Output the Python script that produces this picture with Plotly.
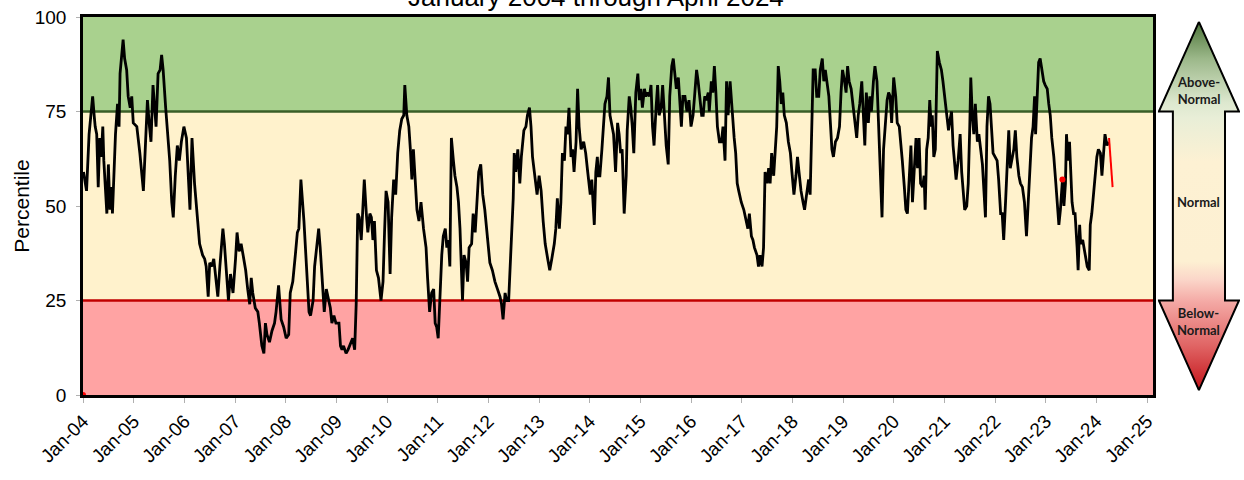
import datetime as dt
import plotly.graph_objects as go

TITLE = "January 2004 through April 2024"
Y_TITLE = "Percentile"
FONT = "Liberation Sans, Arial, sans-serif"

# Weekly percentile readings: decimal year and percentile, by period
yr_2004_2008 = [
    2004.01, 2004.07, 2004.12, 2004.15, 2004.19, 2004.22, 2004.24, 2004.27, 2004.30, 2004.33, 2004.36,
    2004.39, 2004.41, 2004.47, 2004.50, 2004.53, 2004.56, 2004.58, 2004.61, 2004.64, 2004.68, 2004.71,
    2004.73, 2004.77, 2004.79, 2004.82, 2004.86, 2004.89, 2004.93, 2004.96, 2004.99,
    2005.06, 2005.12, 2005.19, 2005.23, 2005.27, 2005.31, 2005.34, 2005.38, 2005.44, 2005.48, 2005.52,
    2005.55, 2005.58, 2005.63, 2005.68, 2005.71, 2005.75, 2005.78, 2005.82, 2005.86, 2005.90, 2005.94, 2005.99,
    2006.04, 2006.11, 2006.15, 2006.20, 2006.25, 2006.30, 2006.36, 2006.40, 2006.43, 2006.47, 2006.50,
    2006.54, 2006.58, 2006.62, 2006.66, 2006.70, 2006.73, 2006.76, 2006.79, 2006.83, 2006.87, 2006.91, 2006.96,
    2007.01, 2007.04, 2007.08, 2007.12, 2007.16, 2007.21, 2007.25, 2007.29, 2007.32, 2007.35, 2007.40,
    2007.45, 2007.48, 2007.53, 2007.57, 2007.60, 2007.63, 2007.68, 2007.73, 2007.78, 2007.81, 2007.86,
    2007.91, 2007.96,
    2008.01, 2008.06, 2008.09, 2008.14, 2008.19, 2008.23, 2008.26, 2008.30, 2008.36, 2008.41, 2008.46,
    2008.49, 2008.54, 2008.57, 2008.61, 2008.65, 2008.68, 2008.73, 2008.76, 2008.80, 2008.84, 2008.88,
    2008.91, 2008.95, 2008.99,
]
pct_2004_2008 = [
    59, 54, 69, 73, 79, 74, 71, 69, 55, 68, 63,
    71, 62, 48, 61, 49, 55, 48, 61, 69, 77, 71,
    85, 90, 94, 89, 86, 79, 76, 79, 72,
    71, 64, 54, 65, 78, 71, 67, 82, 71, 85, 86,
    90, 86, 76, 67, 62, 51, 47, 58, 66, 62, 67, 71,
    68, 49, 68, 56, 48, 40, 37, 36, 34, 26, 35,
    34, 36, 31, 26, 34, 39, 44, 40, 33, 25, 32, 27,
    36, 43, 38, 40, 37, 33, 28, 24, 31, 27, 23,
    22, 19, 13, 11, 19, 16, 14, 17, 19, 22, 29,
    20, 18,
    15, 16, 27, 30, 37, 43, 44, 57, 46, 35, 22,
    21, 25, 34, 40, 44, 39, 28, 22, 28, 25, 23,
    19, 21, 19,
]

yr_2009_2012 = [
    2009.05, 2009.08, 2009.11, 2009.14, 2009.19, 2009.23, 2009.28, 2009.32, 2009.36, 2009.39, 2009.42,
    2009.45, 2009.49, 2009.52, 2009.55, 2009.59, 2009.62, 2009.66, 2009.69, 2009.72, 2009.75, 2009.79,
    2009.83, 2009.88, 2009.92, 2009.95, 2009.98,
    2010.02, 2010.06, 2010.09, 2010.13, 2010.17, 2010.21, 2010.25, 2010.29, 2010.33, 2010.35, 2010.39,
    2010.43, 2010.46, 2010.49, 2010.52, 2010.56, 2010.59, 2010.63, 2010.67, 2010.72, 2010.77, 2010.80,
    2010.84, 2010.88, 2010.92, 2010.95, 2010.98,
    2011.01, 2011.05, 2011.08, 2011.11, 2011.15, 2011.18, 2011.21, 2011.24, 2011.27, 2011.31, 2011.34,
    2011.38, 2011.41, 2011.44, 2011.47, 2011.49, 2011.52, 2011.56, 2011.59, 2011.62, 2011.67, 2011.70,
    2011.74, 2011.77, 2011.81, 2011.85, 2011.89, 2011.93, 2011.98,
    2012.03, 2012.08, 2012.13, 2012.18, 2012.23, 2012.26, 2012.29, 2012.33, 2012.36, 2012.40, 2012.45,
    2012.49, 2012.51, 2012.54, 2012.58, 2012.62, 2012.65, 2012.70, 2012.74, 2012.77, 2012.81, 2012.84,
    2012.87, 2012.91, 2012.96,
]
pct_2009_2012 = [
    19, 13, 12, 13, 11, 12, 14, 15, 12, 24, 48,
    47, 41, 49, 57, 48, 43, 48, 47, 41, 46, 33,
    31, 25, 30, 43, 54,
    51, 32, 47, 57, 53, 64, 70, 73, 74, 82, 74,
    71, 65, 57, 65, 56, 49, 46, 51, 44, 39, 31,
    22, 27, 28, 19, 18,
    15, 28, 37, 42, 44, 39, 41, 34, 68, 62, 58,
    55, 51, 44, 34, 25, 37, 35, 30, 39, 40, 48,
    43, 49, 59, 61, 53, 49, 42,
    35, 33, 30, 28, 26, 24, 20, 27, 25, 25, 40,
    52, 64, 59, 65, 56, 63, 70, 71, 74, 76, 71,
    63, 59, 53,
]

yr_2013_2016 = [
    2013.00, 2013.04, 2013.08, 2013.12, 2013.17, 2013.21, 2013.25, 2013.30, 2013.33, 2013.36, 2013.40,
    2013.43, 2013.46, 2013.50, 2013.53, 2013.56, 2013.59, 2013.63, 2013.66, 2013.69, 2013.73, 2013.76,
    2013.79, 2013.83, 2013.88, 2013.92, 2013.96,
    2014.01, 2014.04, 2014.07, 2014.09, 2014.12, 2014.15, 2014.17, 2014.20, 2014.24, 2014.27, 2014.30,
    2014.34, 2014.37, 2014.40, 2014.43, 2014.47, 2014.51, 2014.55, 2014.58, 2014.61, 2014.64, 2014.68,
    2014.72, 2014.74, 2014.78, 2014.81, 2014.84, 2014.87, 2014.91, 2014.95, 2014.98,
    2015.01, 2015.04, 2015.08, 2015.11, 2015.14, 2015.18, 2015.21, 2015.24, 2015.27, 2015.31, 2015.34,
    2015.37, 2015.41, 2015.44, 2015.47, 2015.51, 2015.55, 2015.58, 2015.62, 2015.65, 2015.68, 2015.71,
    2015.75, 2015.78, 2015.81, 2015.84, 2015.88, 2015.92, 2015.96,
    2016.00, 2016.04, 2016.07, 2016.11, 2016.14, 2016.17, 2016.21, 2016.24, 2016.27, 2016.30, 2016.34,
    2016.36, 2016.40, 2016.43, 2016.46, 2016.49, 2016.52, 2016.56, 2016.60, 2016.63, 2016.67, 2016.70,
    2016.73, 2016.77, 2016.81, 2016.85, 2016.88, 2016.91, 2016.94, 2016.99,
]
pct_2013_2016 = [
    58, 54, 46, 40, 36, 33, 36, 40, 44, 52, 44,
    51, 64, 62, 71, 69, 76, 63, 65, 59, 67, 81,
    71, 65, 67, 64, 59,
    53, 57, 51, 45, 59, 63, 58, 58, 65, 72, 77,
    79, 84, 74, 72, 69, 59, 72, 69, 64, 65, 48,
    58, 70, 79, 76, 71, 64, 80, 85, 78,
    81, 76, 81, 79, 80, 79, 82, 71, 66, 76, 82,
    74, 76, 82, 74, 66, 61, 79, 87, 89, 85, 81,
    84, 78, 71, 79, 79, 75, 78,
    71, 74, 79, 86, 83, 79, 74, 74, 79, 78, 80,
    75, 83, 80, 87, 80, 71, 67, 67, 71, 62, 83,
    74, 83, 75, 68, 64, 56, 54, 51,
]

yr_2017_2020 = [
    2017.04, 2017.09, 2017.12, 2017.15, 2017.19, 2017.22, 2017.25, 2017.30, 2017.33, 2017.36, 2017.40,
    2017.43, 2017.46, 2017.50, 2017.53, 2017.56, 2017.59, 2017.63, 2017.66, 2017.69, 2017.72, 2017.75,
    2017.78, 2017.81, 2017.84, 2017.88, 2017.92, 2017.96, 2017.99,
    2018.03, 2018.07, 2018.10, 2018.13, 2018.17, 2018.21, 2018.24, 2018.28, 2018.32, 2018.35, 2018.38,
    2018.41, 2018.45, 2018.48, 2018.52, 2018.55, 2018.59, 2018.62, 2018.65, 2018.68, 2018.72, 2018.75,
    2018.78, 2018.81, 2018.85, 2018.89, 2018.93, 2018.96, 2018.99,
    2019.03, 2019.06, 2019.09, 2019.12, 2019.16, 2019.19, 2019.23, 2019.27, 2019.30, 2019.33, 2019.37,
    2019.41, 2019.43, 2019.46, 2019.50, 2019.53, 2019.56, 2019.60, 2019.63, 2019.67, 2019.70, 2019.73,
    2019.77, 2019.80, 2019.83, 2019.87, 2019.90, 2019.93, 2019.96,
    2020.00, 2020.04, 2020.07, 2020.11, 2020.14, 2020.17, 2020.21, 2020.24, 2020.27, 2020.30, 2020.34,
    2020.37, 2020.40, 2020.44, 2020.47, 2020.50, 2020.53, 2020.57, 2020.60, 2020.62, 2020.65, 2020.68,
    2020.71, 2020.74, 2020.76, 2020.79, 2020.82, 2020.86, 2020.90, 2020.94, 2020.97,
]
pct_2017_2020 = [
    49, 46, 44, 48, 42, 41, 39, 37, 34, 37, 34,
    39, 59, 56, 60, 56, 64, 58, 65, 71, 87, 83,
    77, 80, 74, 72, 67, 64, 59,
    53, 58, 63, 59, 54, 51, 49, 53, 57, 53, 74,
    86, 86, 79, 79, 86, 89, 83, 86, 83, 79, 72,
    65, 63, 67, 68, 71, 80, 86,
    83, 80, 87, 83, 81, 77, 72, 68, 74, 77, 83,
    72, 66, 80, 72, 79, 75, 83, 87, 83, 71, 60,
    47, 65, 71, 78, 80, 79, 72,
    84, 79, 72, 71, 67, 62, 55, 49, 48, 56, 66,
    51, 58, 68, 60, 68, 56, 55, 58, 49, 65, 68,
    78, 71, 74, 63, 65, 91, 88, 86, 83,
]

yr_2021_2024 = [
    2021.00, 2021.04, 2021.08, 2021.10, 2021.14, 2021.17, 2021.20, 2021.23, 2021.27, 2021.31, 2021.34,
    2021.37, 2021.40, 2021.44, 2021.47, 2021.50, 2021.52, 2021.55, 2021.58, 2021.61, 2021.65, 2021.68,
    2021.71, 2021.75, 2021.78, 2021.81, 2021.84, 2021.87, 2021.90, 2021.93, 2021.96,
    2022.00, 2022.04, 2022.07, 2022.11, 2022.14, 2022.17, 2022.21, 2022.24, 2022.27, 2022.30, 2022.34,
    2022.37, 2022.40, 2022.43, 2022.47, 2022.50, 2022.54, 2022.58, 2022.62, 2022.65, 2022.68, 2022.72,
    2022.75, 2022.78, 2022.80, 2022.83, 2022.86, 2022.89, 2022.93, 2022.96, 2022.99,
    2023.03, 2023.06, 2023.09, 2023.12, 2023.16, 2023.20, 2023.24, 2023.26, 2023.29, 2023.33, 2023.36,
    2023.39, 2023.41, 2023.44, 2023.47, 2023.49, 2023.52, 2023.55, 2023.58, 2023.62, 2023.64, 2023.67,
    2023.69, 2023.73, 2023.76, 2023.79, 2023.82, 2023.86, 2023.88, 2023.91, 2023.94, 2023.98,
    2024.01, 2024.04, 2024.08, 2024.11, 2024.14, 2024.17, 2024.21, 2024.24,
]
pct_2021_2024 = [
    79, 75, 70, 72, 75, 66, 61, 57, 62, 69, 59,
    54, 49, 50, 56, 71, 84, 74, 69, 77, 67, 69,
    66, 61, 54, 47, 71, 79, 77, 69, 64,
    63, 62, 57, 48, 48, 41, 52, 63, 70, 60, 63,
    65, 70, 63, 58, 56, 55, 51, 42, 51, 58, 68,
    71, 79, 69, 81, 88, 89, 85, 83, 82,
    81, 77, 74, 68, 63, 56, 50, 45, 49, 57, 50,
    56, 69, 62, 67, 58, 51, 48, 48, 39, 33, 45,
    40, 41, 39, 37, 34, 33, 45, 48, 53, 58,
    63, 65, 64, 58, 64, 69, 66, 67,
]

# Provisional latest weeks, drawn in red
yr_latest = [2024.25, 2024.32]
pct_latest = [68, 55]

# Highlighted single readings
yr_marks = [2004.00, 2023.33]
pct_marks = [0, 57]

# Percentile classes
band_edges = [0, 25, 75, 100]
band_colors = ["#ffa3a3", "#fff2cc", "#a9d18e"]
class_labels = ["<b>Below-<br>Normal</b>", "<b>Normal</b>", "<b>Above-<br>Normal</b>"]
class_label_y = [19.5, 51, 80.5]


def to_date(y):
    year = int(y)
    start = dt.datetime(year, 1, 1)
    end = dt.datetime(year + 1, 1, 1)
    return start + (end - start) * (y - year)


years = yr_2004_2008 + yr_2009_2012 + yr_2013_2016 + yr_2017_2020 + yr_2021_2024
pct = pct_2004_2008 + pct_2009_2012 + pct_2013_2016 + pct_2017_2020 + pct_2021_2024
assert len(years) == len(pct)

fig = go.Figure()

fig.add_trace(go.Scatter(
    x=[to_date(v) for v in years], y=pct, mode="lines",
    line=dict(color="black", width=2.8), hoverinfo="skip", showlegend=False,
))
fig.add_trace(go.Scatter(
    x=[to_date(v) for v in yr_latest], y=pct_latest, mode="lines",
    line=dict(color="#ff0000", width=2), hoverinfo="skip", showlegend=False,
))
fig.add_trace(go.Scatter(
    x=[to_date(v) for v in yr_marks], y=pct_marks, mode="markers",
    marker=dict(color="#ff0000", size=6), cliponaxis=False,
    hoverinfo="skip", showlegend=False,
))

# Class bands and their boundary lines
for lo, hi, col in zip(band_edges[:-1], band_edges[1:], band_colors):
    fig.add_shape(type="rect", xref="x domain", yref="y", x0=0, x1=1, y0=lo, y1=hi,
                  fillcolor=col, line_width=0, layer="below")
fig.add_shape(type="line", xref="x domain", yref="y", x0=0, x1=1, y0=band_edges[2], y1=band_edges[2],
              line=dict(color="#3a5e27", width=2.5), layer="below")
fig.add_shape(type="line", xref="x domain", yref="y", x0=0, x1=1, y0=band_edges[1], y1=band_edges[1],
              line=dict(color="#c00000", width=2.5), layer="below")

# Double-headed class arrow beside the plot
arrow_x = [41, 81, 67, 67, 81, 41, 1, 15, 15, 1, 41]
arrow_y = [98.7, 75, 75, 25, 25, 1.3, 25, 25, 75, 75, 98.7]
fig.add_trace(go.Scatter(
    x=arrow_x, y=arrow_y, xaxis="x2", yaxis="y2", mode="lines", fill="toself",
    line=dict(color="black", width=2), cliponaxis=False,
    fillgradient=dict(type="vertical", colorscale=[
        [0.0, "#c3141a"], [0.12, "#e06464"], [0.24, "#f4a9a5"], [0.30, "#fbd6c9"],
        [0.35, "#fdf0d2"], [0.62, "#fdf1d3"], [0.74, "#e8eed7"], [0.78, "#dde8cf"],
        [0.90, "#9cb88a"], [1.0, "#4c7439"],
    ]),
    hoverinfo="skip", showlegend=False,
))
for txt, yv in zip(class_labels, class_label_y):
    fig.add_annotation(x=41, y=yv, xref="x2", yref="y2", text=txt, showarrow=False,
                       font=dict(family="Lato, Open Sans, sans-serif", size=13, color="#1a1a1a"))

fig.add_annotation(x=0.443, y=1, xref="paper", yref="paper", xanchor="center", yanchor="bottom",
                   yshift=3, text=TITLE, showarrow=False,
                   font=dict(family=FONT, size=26, color="black"))

fig.update_layout(
    width=1244, height=480,
    margin=dict(l=83, r=1, t=17, b=85),
    paper_bgcolor="white", plot_bgcolor="white",
    font=dict(family=FONT, color="black"),
    xaxis=dict(
        type="date", domain=[0, 0.925],
        range=[dt.datetime(2004, 1, 1), dt.datetime(2025, 2, 14)],
        tick0="2004-01-01", dtick="M12", tickformat="%b-%y", tickangle=-45,
        tickfont=dict(size=19, family=FONT, color="black"),
        ticks="outside", ticklen=5, tickcolor="#b0b0b0", tickwidth=1,
        showgrid=False, zeroline=False,
        showline=True, linecolor="black", linewidth=2.5, mirror=True,
    ),
    yaxis=dict(
        range=[0, 100], tickvals=[0, 25, 50, 75, 100],
        tickfont=dict(size=19, family=FONT, color="black"),
        ticks="outside", ticklen=4, tickcolor="#b0b0b0", tickwidth=1,
        ticklabelstandoff=6,
        showgrid=False, zeroline=False,
        showline=True, linecolor="black", linewidth=2.5, mirror=True,
        title=dict(text=Y_TITLE, font=dict(size=21, family=FONT, color="black"), standoff=0),
    ),
    xaxis2=dict(domain=[0.929, 1.0], range=[0, 82], anchor="y2", visible=False, fixedrange=True),
    yaxis2=dict(domain=[0, 1], range=[0, 100], anchor="x2", visible=False, fixedrange=True),
)

fig.write_html("out.html")
